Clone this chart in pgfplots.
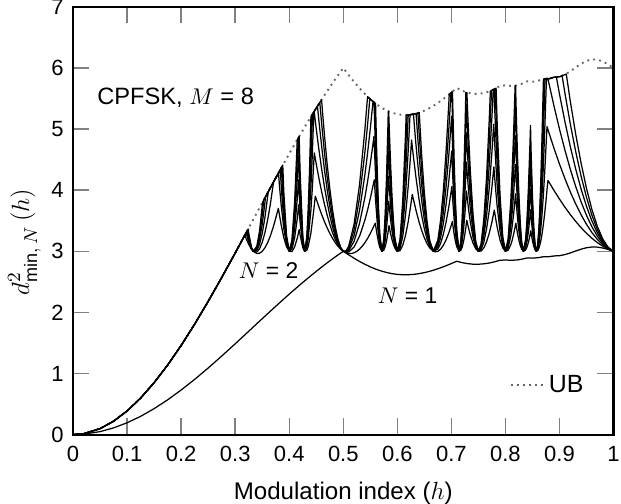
\documentclass[border=0pt]{standalone}
\usepackage{fontspec}
\setmainfont{Liberation Sans}
\usepackage{amsmath}
\usepackage{pgfplots}
\pgfplotsset{compat=1.18}
\begin{document}
\begin{tikzpicture}
\begin{axis}[
  scale only axis, width=260.4pt, height=206.1pt,
  xmin=0, xmax=1, ymin=0, ymax=7,
  xtick={0,0.1,0.2,0.3,0.4,0.5,0.6,0.7,0.8,0.9,1},
  xticklabels={0,0.1,0.2,0.3,0.4,0.5,0.6,0.7,0.8,0.9,1},
  ytick={0,1,2,3,4,5,6,7},
  yticklabels={0,1,2,3,4,5,6,7},
  tick align=inside, tick pos=both,
  major tick length=7.8pt,
  tick style={gray, line width=0.7pt},
  axis line style={line width=1pt},
  /pgf/number format/assume math mode=true,
  ticklabel style={font=\fontsize{10.6}{12}\selectfont},
  xticklabel style={yshift=-2.2pt},
  yticklabel style={xshift=-1pt},
  xlabel={Modulation index ($h$)},
  ylabel={$d^{2}_{\text{min},\:N}\,(h)$},
  xlabel style={font=\fontsize{11.6}{13}\selectfont, at={(axis description cs:0.5,-0.093)}, anchor=north},
  ylabel style={font=\fontsize{12.4}{14}\selectfont, at={(axis description cs:-0.046,0.45)}, anchor=south},
  legend style={at={(axis cs:0.797,0.81)}, anchor=west, draw=none, fill=none, font=\fontsize{12}{14}\selectfont},
  legend image code/.code={\draw[#1] (0cm,0cm) -- (0.55cm,0cm);},
  every axis plot/.append style={line join=round},
]
% upper bound
\addplot[gray!80!black, dotted, line width=0.9pt] coordinates {
(0,0) (0.02,0.016) (0.05,0.098) (0.075,0.220) (0.1,0.387) (0.125,0.598) (0.15,0.850) (0.175,1.138) (0.2,1.459) (0.225,1.808) (0.25,2.180) (0.275,2.570) (0.3,2.972) (0.31,3.136) (0.32,3.300) (0.33,3.464) (0.34,3.629) (0.35,3.793) (0.36,3.956) (0.37,4.119) (0.38,4.280) (0.39,4.439) (0.4,4.597) (0.41,4.752) (0.42,4.905) (0.43,5.054) (0.44,5.201) (0.45,5.344) (0.46,5.484) (0.47,5.619) (0.48,5.751) (0.49,5.878) (0.5,6.0) (0.51,5.883) (0.52,5.772) (0.53,5.668) (0.54,5.574) (0.55,5.49) (0.56,5.416) (0.57,5.355) (0.58,5.305) (0.59,5.268) (0.6,5.243) (0.61,5.231) (0.62,5.231) (0.63,5.244) (0.64,5.267) (0.65,5.301) (0.66,5.345) (0.67,5.398) (0.68,5.459) (0.69,5.526) (0.7,5.599) (0.71,5.673) (0.72,5.627) (0.73,5.595) (0.74,5.577) (0.75,5.576) (0.76,5.589) (0.77,5.616) (0.78,5.655) (0.79,5.706) (0.8,5.716) (0.81,5.706) (0.82,5.714) (0.83,5.74) (0.84,5.781) (0.85,5.775) (0.86,5.789) (0.87,5.82) (0.88,5.822) (0.89,5.848) (0.9,5.856) (0.91,5.891) (0.92,5.945) (0.93,6.009) (0.94,6.07) (0.95,6.116) (0.96,6.14) (0.97,6.136) (0.98,6.107) (0.99,6.059) (1,6.0)
};
\addlegendentry{UB}
% N = 1
\addplot[black, line width=0.6pt, forget plot] coordinates {
(0,0) (0.02,0.008) (0.05,0.049) (0.075,0.110) (0.1,0.194) (0.125,0.299) (0.15,0.425) (0.175,0.569) (0.2,0.730) (0.225,0.904) (0.25,1.090) (0.275,1.285) (0.3,1.486) (0.31,1.568) (0.32,1.650) (0.33,1.732) (0.34,1.815) (0.35,1.897) (0.36,1.978) (0.37,2.060) (0.38,2.140) (0.39,2.220) (0.4,2.299) (0.41,2.376) (0.42,2.453) (0.43,2.527) (0.44,2.601) (0.45,2.672) (0.46,2.742) (0.47,2.810) (0.48,2.876) (0.49,2.939) (0.5,3.0) (0.51,2.942) (0.52,2.886) (0.53,2.834) (0.54,2.787) (0.55,2.745) (0.56,2.708) (0.57,2.678) (0.58,2.653) (0.59,2.634) (0.6,2.622) (0.61,2.616) (0.62,2.616) (0.63,2.622) (0.64,2.634) (0.65,2.651) (0.66,2.673) (0.67,2.699) (0.68,2.730) (0.69,2.763) (0.7,2.800) (0.71,2.837) (0.72,2.814) (0.73,2.798) (0.74,2.789) (0.75,2.788) (0.76,2.795) (0.77,2.808) (0.78,2.828) (0.79,2.853) (0.8,2.858) (0.81,2.853) (0.82,2.857) (0.83,2.870) (0.84,2.891) (0.85,2.888) (0.86,2.895) (0.87,2.910) (0.88,2.911) (0.89,2.924) (0.9,2.928) (0.91,2.946) (0.92,2.973) (0.93,3.005) (0.94,3.035) (0.95,3.058) (0.96,3.070) (0.97,3.068) (0.98,3.054) (0.99,3.030) (1,3.0)
};
% N = 2
\addplot[black, line width=0.6pt, forget plot] coordinates {
(0,0) (0.02,0.016) (0.05,0.098) (0.075,0.220) (0.1,0.387) (0.125,0.598) (0.15,0.850) (0.175,1.138) (0.2,1.459) (0.225,1.808) (0.25,2.180) (0.275,2.570) (0.3,2.972) (0.31,3.136) (0.318,3.265)
(0.32,3.213) (0.325,3.112) (0.33,3.036) (0.3333,3.0)
(0.34,2.964) (0.345,2.968) (0.35,2.999) (0.355,3.057) (0.36,3.141) (0.365,3.25) (0.37,3.384) (0.375,3.541) (0.3798,3.703) (0.385,3.435) (0.39,3.221) (0.395,3.074) (0.4,3.0)
(0.405,2.995) (0.41,3.073) (0.415,3.219) (0.4184,3.355) (0.42,3.27) (0.425,3.062) (0.4286,3.0)
(0.4325,3.017) (0.435,3.075) (0.44,3.294) (0.445,3.645) (0.4482,3.90) (0.45,3.854) (0.455,3.723) (0.46,3.601) (0.465,3.489) (0.47,3.386) (0.475,3.294) (0.48,3.213) (0.485,3.143) (0.49,3.084) (0.495,3.036) (0.5,3.0)
(0.505,2.976) (0.51,2.964) (0.515,2.964) (0.52,2.975) (0.525,2.999) (0.53,3.035) (0.535,3.082) (0.54,3.141) (0.545,3.211) (0.55,3.292) (0.555,3.384) (0.5591,3.46) (0.5625,3.274) (0.565,3.152) (0.5675,3.065) (0.5714,3.0)
(0.575,3.018) (0.5775,3.075) (0.58,3.167) (0.5825,3.293) (0.5846,3.42) (0.5875,3.29) (0.59,3.196) (0.5925,3.12) (0.595,3.062) (0.5975,3.022) (0.6,3.0)
(0.605,3.012) (0.61,3.098) (0.615,3.255) (0.62,3.479) (0.625,3.766) (0.6276,3.93) (0.63,3.841) (0.635,3.653) (0.64,3.486) (0.645,3.342) (0.65,3.221) (0.655,3.124) (0.66,3.054) (0.6667,3.0)
(0.67,2.991) (0.675,3.0) (0.68,3.035) (0.685,3.097) (0.69,3.184) (0.695,3.296) (0.7,3.433) (0.7018,3.486) (0.705,3.285) (0.7075,3.161) (0.71,3.071) (0.7143,3.0)
(0.7175,3.017) (0.72,3.07) (0.7225,3.16) (0.725,3.284) (0.7265,3.373) (0.7285,3.507) (0.73,3.448) (0.7325,3.353) (0.735,3.269) (0.74,3.134) (0.745,3.044) (0.75,3.0)
(0.755,3.004) (0.76,3.055) (0.765,3.152) (0.77,3.294) (0.775,3.479) (0.7794,3.674) (0.7825,3.505) (0.785,3.381) (0.79,3.184) (0.795,3.056) (0.8,3.0)
(0.805,3.018) (0.81,3.11) (0.8125,3.183) (0.815,3.273) (0.8175,3.38) (0.8192,3.46) (0.8225,3.285) (0.825,3.176) (0.8275,3.093) (0.83,3.036) (0.8333,3.0)
(0.8375,3.022) (0.84,3.071) (0.8425,3.145) (0.845,3.245) (0.8469,3.335) (0.85,3.171) (0.8525,3.078) (0.855,3.021) (0.8571,3.0)
(0.86,3.014) (0.8625,3.064) (0.865,3.15) (0.8675,3.271) (0.87,3.424) (0.8725,3.609) (0.875,3.822) (0.8775,4.062) (0.8787,4.16) (0.89,3.993) (0.9,3.854) (0.91,3.723) (0.92,3.601) (0.93,3.489) (0.94,3.386) (0.95,3.294) (0.96,3.213) (0.97,3.143) (0.98,3.084) (0.99,3.036) (1,3.0)
};
% N = 3
\addplot[black, line width=0.6pt, forget plot] coordinates {
(0,0) (0.02,0.016) (0.05,0.098) (0.075,0.220) (0.1,0.387) (0.125,0.598) (0.15,0.850) (0.175,1.138) (0.2,1.459) (0.225,1.808) (0.25,2.180) (0.275,2.570) (0.3,2.972) (0.31,3.136) (0.3202,3.302)
(0.325,3.149) (0.33,3.042) (0.3333,3.0)
(0.34,2.988) (0.345,3.04) (0.35,3.146) (0.355,3.304) (0.36,3.512) (0.365,3.769) (0.37,4.073) (0.3709,4.13) (0.375,4.20) (0.3801,4.28) (0.3825,4.009) (0.385,3.762) (0.39,3.368) (0.395,3.111) (0.4,3.0)
(0.405,3.036) (0.41,3.22) (0.415,3.546) (0.4175,3.76) (0.42,3.48) (0.425,3.099) (0.4286,3.0)
(0.4325,3.062) (0.435,3.194) (0.44,3.665) (0.4425,3.999) (0.445,4.395) (0.4463,4.61) (0.4475,4.553) (0.45,4.427) (0.455,4.19) (0.46,3.972) (0.465,3.775) (0.47,3.597) (0.475,3.441) (0.48,3.307) (0.485,3.196) (0.49,3.107) (0.495,3.042) (0.5,3.0)
(0.505,2.982) (0.51,2.988) (0.52,3.07) (0.53,3.245) (0.54,3.512) (0.545,3.678) (0.55,3.865) (0.555,4.073) (0.5573,4.17) (0.56,3.8) (0.5625,3.503) (0.565,3.271) (0.5675,3.11) (0.5714,3.0)
(0.575,3.055) (0.5775,3.181) (0.58,3.377) (0.5825,3.641) (0.584,3.82) (0.585,3.726) (0.5875,3.518) (0.59,3.343) (0.5925,3.203) (0.595,3.099) (0.6,3.0)
(0.605,3.049) (0.61,3.244) (0.615,3.582) (0.62,4.052) (0.6225,4.334) (0.625,4.645) (0.6263,4.82) (0.6275,4.724) (0.63,4.529) (0.635,4.172) (0.64,3.857) (0.645,3.588) (0.65,3.368) (0.655,3.197) (0.66,3.077) (0.6667,3.0)
(0.675,3.036) (0.68,3.129) (0.685,3.274) (0.69,3.47) (0.695,3.714) (0.7,4.006) (0.7009,4.06) (0.7025,3.835) (0.705,3.531) (0.7075,3.293) (0.71,3.124) (0.7143,3.0)
(0.7175,3.046) (0.72,3.164) (0.7225,3.353) (0.725,3.611) (0.7265,3.795) (0.7279,3.985) (0.73,3.819) (0.7325,3.639) (0.735,3.48) (0.74,3.228) (0.745,3.067) (0.75,3.0)
(0.755,3.027) (0.76,3.149) (0.765,3.363) (0.77,3.665) (0.775,4.052) (0.7786,4.38) (0.78,4.216) (0.7825,3.947) (0.785,3.708) (0.79,3.33) (0.795,3.093) (0.8,3.0)
(0.805,3.055) (0.81,3.257) (0.8125,3.412) (0.815,3.6) (0.8175,3.822) (0.8187,3.94) (0.82,3.788) (0.8225,3.531) (0.825,3.323) (0.8275,3.166) (0.83,3.059) (0.8333,3.0)
(0.8375,3.059) (0.84,3.165) (0.8425,3.322) (0.845,3.531) (0.8465,3.68) (0.8475,3.564) (0.85,3.318) (0.8525,3.14) (0.855,3.034) (0.8571,3.0)
(0.86,3.037) (0.8625,3.147) (0.865,3.328) (0.8675,3.577) (0.87,3.891) (0.8725,4.267) (0.875,4.701) (0.8769,5.04) (0.88,4.954) (0.89,4.681) (0.9,4.427) (0.91,4.19) (0.92,3.972) (0.93,3.775) (0.94,3.597) (0.95,3.441) (0.96,3.307) (0.97,3.196) (0.98,3.107) (0.99,3.042) (1,3.0)
};
% N = 4
\addplot[black, line width=0.6pt, forget plot] coordinates {
(0,0) (0.02,0.016) (0.05,0.098) (0.075,0.220) (0.1,0.387) (0.125,0.598) (0.15,0.850) (0.175,1.138) (0.2,1.459) (0.225,1.808) (0.25,2.180) (0.275,2.570) (0.3,2.972) (0.31,3.136) (0.32,3.300) (0.3216,3.326)
(0.325,3.186) (0.33,3.048) (0.3333,3.0)
(0.34,3.011) (0.345,3.113) (0.35,3.293) (0.355,3.551) (0.3611,3.97) (0.365,4.04) (0.37,4.119) (0.375,4.20) (0.38,4.28) (0.3834,4.33) (0.385,4.089) (0.3875,3.777) (0.39,3.514) (0.395,3.148) (0.4,3.0)
(0.405,3.073) (0.41,3.367) (0.415,3.873) (0.4173,4.17) (0.42,3.69) (0.425,3.136) (0.4286,3.0)
(0.4325,3.106) (0.435,3.313) (0.44,4.036) (0.4425,4.545) (0.4455,5.28) (0.4461,5.29) (0.4475,5.183) (0.45,5.0) (0.455,4.657) (0.46,4.343) (0.465,4.06) (0.47,3.808) (0.475,3.588) (0.48,3.401) (0.485,3.25) (0.49,3.131) (0.495,3.048) (0.5,3.0)
(0.505,2.988) (0.51,3.011) (0.52,3.164) (0.53,3.456) (0.54,3.883) (0.545,4.145) (0.55,4.438) (0.555,4.761) (0.5567,4.88) (0.5575,4.705) (0.56,4.171) (0.5625,3.732) (0.565,3.391) (0.5675,3.154) (0.5714,3.0)
(0.575,3.092) (0.5775,3.287) (0.58,3.588) (0.5825,3.99) (0.5837,4.23) (0.585,4.053) (0.5875,3.747) (0.59,3.49) (0.5925,3.286) (0.595,3.136) (0.6,3.0)
(0.605,3.086) (0.61,3.391) (0.615,3.909) (0.62,4.625) (0.6235,5.24) (0.625,5.237) (0.6298,5.243) (0.6325,4.946) (0.635,4.69) (0.64,4.228) (0.645,3.835) (0.65,3.514) (0.655,3.269) (0.66,3.101) (0.6667,3.0)
(0.675,3.073) (0.68,3.223) (0.685,3.451) (0.69,3.755) (0.695,4.131) (0.7,4.579) (0.7006,4.64) (0.7025,4.23) (0.705,3.778) (0.7075,3.426) (0.71,3.178) (0.7143,3.0)
(0.7175,3.076) (0.72,3.259) (0.7225,3.547) (0.725,3.938) (0.7265,4.217) (0.7277,4.46) (0.7285,4.364) (0.73,4.19) (0.7325,3.925) (0.735,3.69) (0.74,3.322) (0.745,3.091) (0.75,3.0)
(0.755,3.051) (0.76,3.243) (0.765,3.573) (0.77,4.036) (0.775,4.625) (0.7783,5.08) (0.78,4.789) (0.7825,4.389) (0.785,4.035) (0.79,3.477) (0.795,3.13) (0.8,3.0)
(0.805,3.092) (0.81,3.403) (0.8125,3.64) (0.815,3.927) (0.8175,4.264) (0.8185,4.42) (0.819,4.33) (0.82,4.158) (0.8225,3.778) (0.825,3.47) (0.8275,3.238) (0.83,3.083) (0.8333,3.0)
(0.8375,3.096) (0.84,3.259) (0.8425,3.5) (0.845,3.816) (0.8464,4.02) (0.8475,3.829) (0.85,3.465) (0.8525,3.203) (0.855,3.047) (0.8571,3.0)
(0.86,3.061) (0.8625,3.23) (0.865,3.505) (0.8675,3.883) (0.87,4.358) (0.8725,4.926) (0.875,5.58) (0.8759,5.83) (0.8785,5.83) (0.88,5.767) (0.89,5.37) (0.9,5.0) (0.91,4.657) (0.92,4.343) (0.93,4.06) (0.94,3.808) (0.95,3.588) (0.96,3.401) (0.97,3.25) (0.98,3.131) (0.99,3.048) (1,3.0)
};
% N = 5
\addplot[black, line width=0.6pt, forget plot] coordinates {
(0,0) (0.02,0.016) (0.05,0.098) (0.075,0.220) (0.1,0.387) (0.125,0.598) (0.15,0.850) (0.175,1.138) (0.2,1.459) (0.225,1.808) (0.25,2.180) (0.275,2.570) (0.3,2.972) (0.31,3.136) (0.32,3.300) (0.3226,3.342)
(0.325,3.222) (0.33,3.054) (0.3333,3.0)
(0.34,3.035) (0.345,3.185) (0.35,3.44) (0.355,3.797) (0.356,3.89) (0.36,3.956) (0.37,4.119) (0.38,4.28) (0.3854,4.37) (0.3875,4.005) (0.39,3.661) (0.395,3.185) (0.4,3.0)
(0.405,3.11) (0.41,3.513) (0.415,4.2) (0.4171,4.57) (0.42,3.901) (0.425,3.173) (0.4286,3.0)
(0.4325,3.151) (0.435,3.432) (0.44,4.407) (0.443,5.245) (0.445,5.272) (0.45,5.344) (0.4522,5.375) (0.455,5.124) (0.46,4.714) (0.465,4.345) (0.47,4.018) (0.475,3.735) (0.48,3.496) (0.485,3.303) (0.49,3.155) (0.495,3.054) (0.5,3.0)
(0.505,2.994) (0.51,3.035) (0.52,3.258) (0.53,3.666) (0.54,4.254) (0.545,4.612) (0.55,5.011) (0.555,5.45) (0.557,5.44) (0.5575,5.25) (0.56,4.542) (0.5625,3.96) (0.565,3.51) (0.5675,3.199) (0.5714,3.0)
(0.575,3.129) (0.5775,3.393) (0.58,3.798) (0.5825,4.338) (0.5836,4.63) (0.585,4.38) (0.5875,3.975) (0.59,3.636) (0.5925,3.369) (0.595,3.173) (0.6,3.0)
(0.605,3.123) (0.61,3.538) (0.615,4.236) (0.6175,4.686) (0.6201,5.23) (0.625,5.237) (0.63,5.244) (0.6347,5.25) (0.6375,4.894) (0.64,4.599) (0.645,4.082) (0.65,3.661) (0.655,3.341) (0.66,3.125) (0.6667,3.0)
(0.675,3.11) (0.68,3.317) (0.685,3.628) (0.69,4.041) (0.695,4.549) (0.7,5.152) (0.7004,5.21) (0.7025,4.624) (0.705,4.025) (0.7075,3.558) (0.71,3.231) (0.7143,3.0)
(0.7175,3.106) (0.72,3.353) (0.7225,3.74) (0.725,4.265) (0.7265,4.639) (0.7276,4.94) (0.7285,4.791) (0.73,4.561) (0.7325,4.21) (0.735,3.901) (0.74,3.417) (0.745,3.115) (0.75,3.0)
(0.755,3.075) (0.76,3.337) (0.765,3.784) (0.77,4.407) (0.775,5.198) (0.7775,5.65) (0.7791,5.65) (0.78,5.362) (0.7825,4.831) (0.785,4.362) (0.79,3.624) (0.795,3.166) (0.8,3.0)
(0.805,3.129) (0.81,3.55) (0.8125,3.869) (0.815,4.254) (0.8175,4.707) (0.8185,4.89) (0.819,4.757) (0.82,4.529) (0.8225,4.024) (0.825,3.616) (0.8275,3.31) (0.83,3.107) (0.8333,3.0)
(0.8375,3.133) (0.84,3.353) (0.8425,3.677) (0.845,4.102) (0.8464,4.37) (0.8475,4.095) (0.85,3.611) (0.8525,3.265) (0.855,3.061) (0.8571,3.0)
(0.86,3.085) (0.8625,3.313) (0.865,3.682) (0.8675,4.189) (0.87,4.825) (0.8725,5.584) (0.8732,5.82) (0.88,5.822) (0.89,5.848) (0.8943,5.85) (0.9,5.573) (0.91,5.124) (0.92,4.714) (0.93,4.345) (0.94,4.018) (0.95,3.735) (0.96,3.496) (0.97,3.303) (0.98,3.155) (0.99,3.054) (1,3.0)
};
% N = 6
\addplot[black, line width=0.6pt, forget plot] coordinates {
(0,0) (0.02,0.016) (0.05,0.098) (0.075,0.220) (0.1,0.387) (0.125,0.598) (0.15,0.850) (0.175,1.138) (0.2,1.459) (0.225,1.808) (0.25,2.180) (0.275,2.570) (0.3,2.972) (0.31,3.136) (0.32,3.300) (0.3234,3.355)
(0.325,3.259) (0.33,3.06) (0.3333,3.0)
(0.34,3.059) (0.345,3.258) (0.35,3.586) (0.3528,3.84) (0.36,3.956) (0.37,4.119) (0.38,4.28) (0.3869,4.39) (0.39,3.808) (0.395,3.222) (0.4,3.0)
(0.405,3.147) (0.41,3.66) (0.415,4.527) (0.4165,4.85) (0.4173,4.864) (0.42,4.112) (0.425,3.21) (0.4286,3.0)
(0.4325,3.196) (0.435,3.551) (0.44,4.778) (0.4413,5.22) (0.445,5.272) (0.45,5.344) (0.455,5.414) (0.4565,5.435) (0.46,5.085) (0.465,4.631) (0.47,4.229) (0.475,3.882) (0.48,3.59) (0.485,3.356) (0.49,3.179) (0.495,3.06) (0.5,3.0)
(0.505,3.0) (0.51,3.059) (0.52,3.352) (0.53,3.877) (0.54,4.625) (0.545,5.079) (0.5491,5.50) (0.55,5.49) (0.555,5.45) (0.5586,5.42) (0.56,4.913) (0.5625,4.189) (0.565,3.629) (0.5675,3.244) (0.5714,3.0)
(0.575,3.166) (0.5775,3.499) (0.58,4.009) (0.5825,4.687) (0.5836,5.03) (0.585,4.707) (0.5875,4.204) (0.59,3.783) (0.5925,3.452) (0.595,3.21) (0.6,3.0)
(0.605,3.16) (0.61,3.685) (0.615,4.563) (0.6179,5.23) (0.62,5.231) (0.63,5.244) (0.6381,5.26) (0.64,4.97) (0.645,4.329) (0.65,3.808) (0.655,3.414) (0.66,3.149) (0.6667,3.0)
(0.675,3.147) (0.68,3.412) (0.685,3.806) (0.69,4.326) (0.695,4.967) (0.6975,5.332) (0.6992,5.59) (0.7,5.6) (0.7009,5.61) (0.7025,5.018) (0.705,4.271) (0.7075,3.691) (0.71,3.284) (0.7143,3.0)
(0.7175,3.136) (0.72,3.447) (0.7225,3.934) (0.725,4.592) (0.7265,5.062) (0.7276,5.41) (0.7285,5.218) (0.73,4.932) (0.7325,4.496) (0.735,4.112) (0.74,3.511) (0.745,3.139) (0.75,3.0)
(0.755,3.099) (0.76,3.431) (0.765,3.995) (0.77,4.778) (0.7743,5.63) (0.775,5.635) (0.78,5.655) (0.781,5.66) (0.7825,5.273) (0.785,4.689) (0.79,3.771) (0.795,3.203) (0.8,3.0)
(0.805,3.166) (0.81,3.697) (0.8125,4.097) (0.815,4.581) (0.8175,5.149) (0.8185,5.37) (0.819,5.184) (0.82,4.9) (0.8225,4.271) (0.825,3.763) (0.8275,3.383) (0.83,3.131) (0.8333,3.0)
(0.8375,3.17) (0.84,3.447) (0.8425,3.854) (0.845,4.387) (0.8464,4.71) (0.8475,4.36) (0.85,3.758) (0.8525,3.327) (0.855,3.074) (0.8571,3.0)
(0.86,3.109) (0.8625,3.396) (0.865,3.86) (0.8675,4.495) (0.87,5.292) (0.8714,5.82) (0.88,5.822) (0.89,5.848) (0.9,5.856) (0.9049,5.87) (0.91,5.591) (0.92,5.085) (0.93,4.631) (0.94,4.229) (0.95,3.882) (0.96,3.59) (0.97,3.356) (0.98,3.179) (0.99,3.06) (1,3.0)
};
% N = 7
\addplot[black, line width=0.6pt, forget plot] coordinates {
(0,0) (0.02,0.016) (0.05,0.098) (0.075,0.220) (0.1,0.387) (0.125,0.598) (0.15,0.850) (0.175,1.138) (0.2,1.459) (0.225,1.808) (0.25,2.180) (0.275,2.570) (0.3,2.972) (0.31,3.136) (0.32,3.300) (0.324,3.364)
(0.325,3.296) (0.33,3.065) (0.3333,3.0)
(0.34,3.082) (0.345,3.33) (0.3506,3.80) (0.36,3.956) (0.37,4.119) (0.38,4.28) (0.388,4.41) (0.39,3.955) (0.395,3.259) (0.4,3.0)
(0.405,3.184) (0.41,3.807) (0.4148,4.825) (0.416,4.844) (0.4183,4.88) (0.42,4.322) (0.425,3.246) (0.4286,3.0)
(0.4325,3.24) (0.435,3.67) (0.4375,4.311) (0.4401,5.203) (0.445,5.272) (0.45,5.344) (0.455,5.414) (0.4598,5.48) (0.4625,5.179) (0.465,4.917) (0.47,4.44) (0.475,4.029) (0.48,3.684) (0.485,3.409) (0.49,3.202) (0.495,3.065) (0.5,3.0)
(0.505,3.005) (0.51,3.082) (0.52,3.447) (0.53,4.088) (0.54,4.996) (0.5449,5.53) (0.55,5.49) (0.555,5.45) (0.5597,5.42) (0.561,4.914) (0.5625,4.418) (0.565,3.748) (0.5675,3.288) (0.5714,3.0)
(0.575,3.203) (0.5775,3.606) (0.58,4.22) (0.5825,5.036) (0.5832,5.29) (0.584,5.29) (0.585,5.034) (0.5875,4.433) (0.59,3.93) (0.5925,3.535) (0.595,3.246) (0.6,3.0)
(0.605,3.196) (0.61,3.832) (0.615,4.89) (0.6163,5.23) (0.62,5.231) (0.63,5.244) (0.64,5.267) (0.6405,5.27) (0.645,4.575) (0.65,3.955) (0.655,3.486) (0.66,3.172) (0.6667,3.0)
(0.675,3.184) (0.68,3.506) (0.685,3.983) (0.69,4.612) (0.695,5.384) (0.696,5.57) (0.7,5.6) (0.702,5.61) (0.7025,5.412) (0.705,4.518) (0.7075,3.824) (0.71,3.337) (0.7143,3.0)
(0.7175,3.166) (0.72,3.541) (0.7225,4.128) (0.725,4.919) (0.7267,5.6) (0.7287,5.6) (0.73,5.303) (0.7325,4.782) (0.735,4.322) (0.74,3.605) (0.745,3.162) (0.75,3.0)
(0.755,3.122) (0.76,3.525) (0.765,4.205) (0.77,5.149) (0.7721,5.62) (0.775,5.635) (0.78,5.655) (0.7827,5.67) (0.785,5.016) (0.79,3.918) (0.795,3.24) (0.8,3.0)
(0.805,3.203) (0.81,3.844) (0.8125,4.326) (0.815,4.908) (0.8179,5.71) (0.8188,5.71) (0.82,5.271) (0.8225,4.518) (0.825,3.91) (0.8275,3.455) (0.83,3.154) (0.8333,3.0)
(0.8375,3.206) (0.84,3.541) (0.8425,4.032) (0.845,4.673) (0.8464,5.06) (0.8475,4.626) (0.85,3.905) (0.8525,3.389) (0.855,3.087) (0.8571,3.0)
(0.86,3.132) (0.8625,3.479) (0.865,4.037) (0.8675,4.801) (0.8703,5.82) (0.88,5.822) (0.89,5.848) (0.9,5.856) (0.91,5.891) (0.9126,5.90) (0.92,5.456) (0.93,4.917) (0.94,4.44) (0.95,4.029) (0.96,3.684) (0.97,3.409) (0.98,3.202) (0.99,3.065) (1,3.0)
};
\node[anchor=base west, inner sep=0pt, font=\fontsize{11.4}{13}\selectfont] at (axis cs:0.044,5.41) {CPFSK, $M$ = 8};
\node[anchor=base west, inner sep=0pt, font=\fontsize{11}{13}\selectfont] at (axis cs:0.306,2.55) {$N$ = 2};
\node[anchor=base west, inner sep=0pt, font=\fontsize{11}{13}\selectfont] at (axis cs:0.563,2.14) {$N$ = 1};
\end{axis}
\pgfresetboundingbox
\path ([xshift=-35.2pt,yshift=-33.3pt]current axis.south west) rectangle ([xshift=3.6pt,yshift=3.3pt]current axis.north east);
\end{tikzpicture}
\end{document}
